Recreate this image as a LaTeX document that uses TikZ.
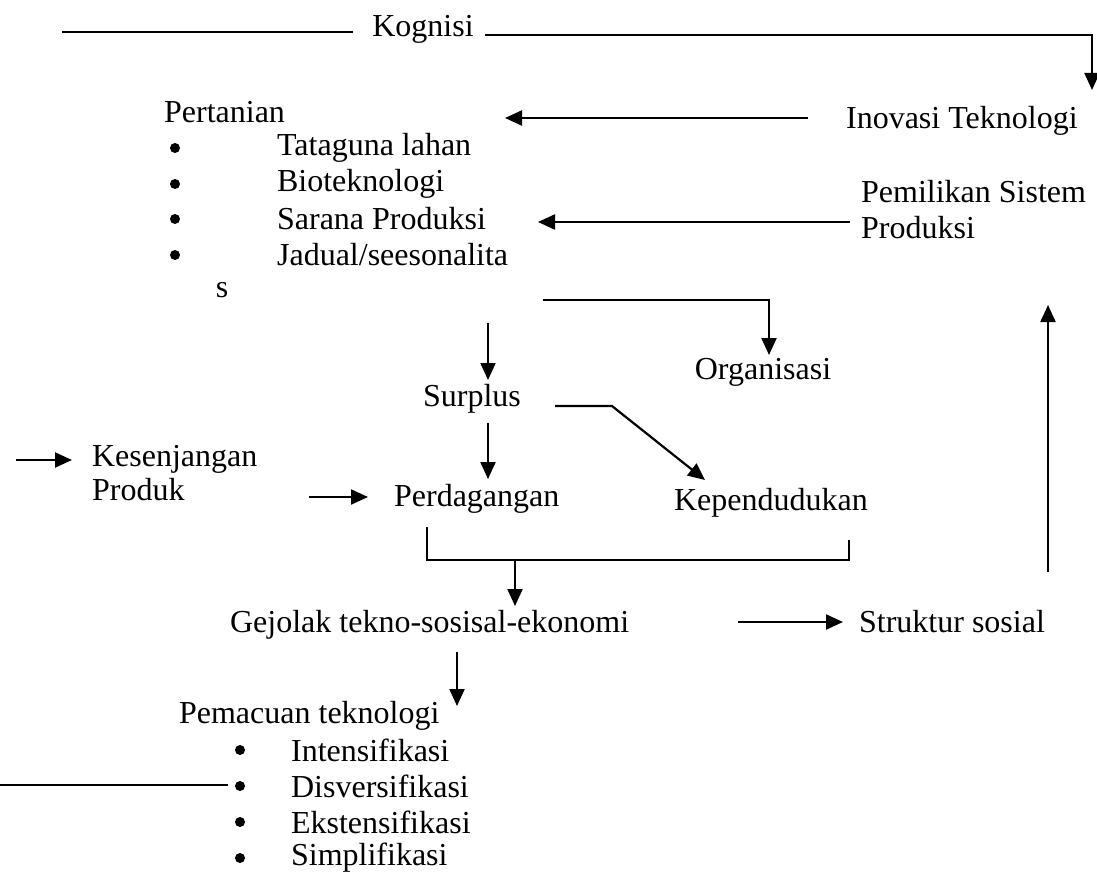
\documentclass[tikz,border=0pt]{standalone}
\usepackage{fontspec}
\setmainfont{Liberation Serif}
\usetikzlibrary{arrows.meta}
\begin{document}
\begin{tikzpicture}[x=0.5pt,y=-0.5pt,line width=1.1pt,
  arr/.style={-{Triangle[length=8.5pt,width=7.5pt]}},
  lbl/.style={inner sep=0pt,anchor=west,font=\fontsize{16}{19}\selectfont},
  ctr/.style={inner sep=0pt,anchor=center,font=\fontsize{16}{19}\selectfont},
  bul/.style={circle,fill=black,inner sep=0pt,minimum size=5pt}]
\useasboundingbox (0,0) rectangle (1097,877);
\fill[white] (0,0) rectangle (1097,877);

% Kognisi
\node[ctr] (kog) at (423,29) {Kognisi};
\coordinate (kl) at (62,32);
\coordinate (kr) at (1092,35);
\coordinate (kt) at (1092,90);
\draw (kl) -- ([xshift=-9pt]kog.west |- kl);
\draw[arr] ([xshift=5pt]kog.east |- kr) -- (kr) -- (kt);
\node[lbl] (ino) at (845,121) {Inovasi Teknologi};

% Pertanian list
\node[lbl] (per) at (163,112) {Pertanian};
\node[bul] (b1) at (175,148) {};
\node[bul] (b2) at (175,184) {};
\node[bul] (b3) at (175,219) {};
\node[bul] (b4) at (175,255) {};
\node[lbl] (t1) at (276,148) {Tataguna lahan};
\node[lbl] (t2) at (276,184) {Bioteknologi};
\node[lbl] (t3) at (276,219) {Sarana Produksi};
\node[lbl] (t4) at (276,255) {Jadual/seesonalita};
\node[ctr] (ts) at (222,290) {s};

% arrows from the right
\coordinate (a1s) at (808,118);
\coordinate (a1e) at (505,118);
\draw[arr] (a1s) -- (a1e);
\node[lbl] (pem1) at (860,192) {Pemilikan Sistem};
\node[lbl] (pem2) at (860,228) {Produksi};
\coordinate (a2s) at (850,222);
\coordinate (a2e) at (538,222);
\draw[arr] (a2s) -- (a2e);

% Organisasi
\node[ctr] (org) at (763,372) {Organisasi};
\coordinate (os) at (543,300);
\coordinate (om) at (769,300);
\coordinate (ot) at (769,355);
\draw[arr] (os) -- (om) -- (ot);

% Surplus
\node[ctr] (sur) at (472,399) {Surplus};
\coordinate (s1s) at (488,323);
\coordinate (s1e) at (488,380);
\draw[arr] (s1s) -- (s1e);
\node[lbl] (kep) at (673,503) {Kependudukan};
\coordinate (s2s) at (555,406);
\coordinate (s2m) at (612,406);
\coordinate (s2e) at (705,480);
\draw[arr] (s2s) -- (s2m) -- (s2e);

% Perdagangan
\node[lbl] (per2) at (393,499) {Perdagangan};
\coordinate (p1s) at (488,423);
\coordinate (p1e) at (488,479);
\draw[arr] (p1s) -- (p1e);
\node[lbl] (kes1) at (91,459) {Kesenjangan};
\node[lbl] (kes2) at (91,490) {Produk};
\coordinate (k1s) at (16,460);
\coordinate (k1e) at (72,460);
\draw[arr] (k1s) -- (k1e);
\coordinate (p2s) at (309,497);
\coordinate (p2e) at (368,497);
\draw[arr] (p2s) -- (p2e);

% bracket
\coordinate (bl) at (427,527);
\coordinate (blb) at (427,560);
\coordinate (brb) at (849,560);
\coordinate (br) at (849,540);
\draw (bl) -- (blb) -- (brb) -- (br);
\node[lbl] (gej) at (229,625) {Gejolak tekno-sosisal-ekonomi};
\coordinate (gs) at (515,560);
\coordinate (ge) at (515,606);
\draw[arr] (gs) -- (ge);

% Struktur sosial
\node[lbl] (str) at (858,622) {Struktur sosial};
\coordinate (ss) at (738,622);
\coordinate (se) at (843,622);
\draw[arr] (ss) -- (se);
\coordinate (us) at (1048,572);
\coordinate (ue) at (1048,305);
\draw[arr] (us) -- (ue);

% Pemacuan
\node[lbl] (pac) at (178,716) {Pemacuan teknologi};
\coordinate (ps) at (457,652);
\coordinate (pe) at (457,706);
\draw[arr] (ps) -- (pe);
\node[bul] (c1) at (240,750) {};
\node[bul] (c2) at (240,786) {};
\node[bul] (c3) at (240,822) {};
\node[bul] (c4) at (240,858) {};
\node[lbl] (d1) at (290,750) {Intensifikasi};
\node[lbl] (d2) at (290,786) {Disversifikasi};
\node[lbl] (d3) at (290,822) {Ekstensifikasi};
\node[lbl] (d4) at (290,858) {Simplifikasi};
\coordinate (ls) at (0,785);
\draw (ls) -- ([xshift=-3pt]c2.west |- ls);
\end{tikzpicture}
\end{document}
